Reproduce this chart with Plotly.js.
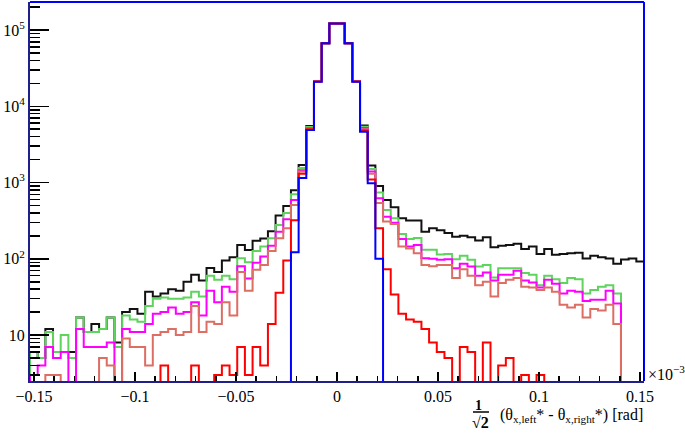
<!DOCTYPE html>
<html>
<head>
<meta charset="utf-8">
<script src="https://cdn.plot.ly/plotly-3.0.1.min.js"></script>
<style>
html,body{margin:0;padding:0;background:#fff;}
#chart text{font-family:"Liberation Serif","Times New Roman",serif !important;}
</style>
</head>
<body>
<div id="chart" style="width:685px;height:438px;"></div>
<script>
// Histogram binning (x in units of 10^-3 rad)
const xLow = -0.152;
const xHigh = 0.152;
const nBins = 80;

// Bin contents (0 = empty bin)
const blackCounts = [6,5,12,6,6,6,17,11,14,12, 17,8,20,22,19,37,32,35,40,38,
  50,62,52,76,67,95,105,152,130,172, 185,230,370,493,790,1700,5500,21500,67000,122000,
  122000,67000,21500,5600,1670,900,590,474,340,317, 317,227,251,237,218,195,200,192,174,192,
  142,148,152,157,134,145,116,134,113,116, 118,120,101,110,105,101,86,98,101,92];
const greenCounts = [6,5,11,6,10,5,17,11,11,12, 17,7,18,16,15,24,30,31,30,30,
  31,37,32,60,53,60,54,102,90,127, 145,186,278,400,700,1550,5350,21400,67000,122000,
  122000,67000,21400,5400,1500,738,438,340,212,182, 188,131,131,114,116,99,110,97,79,83,
  57,75,75,75,65,62,45,60,54,48, 56,54,35,39,43,45,35,0,0,0];
const magentaCounts = [3,4,7,5,6,0,12,7,7,7, 8,0,12,11,11,14,19,20,23,19,
  20,27,18,38,27,43,37,80,55,89, 107,148,227,330,590,1450,5200,21300,67000,122000,
  122000,67000,21300,5200,1400,622,357,298,182,145, 152,102,100,97,99,75,86,79,60,66,
  52,62,62,70,52,49,42,53,47,35, 38,37,28,29,29,38,26,0,0,0];
const salmonCounts = [0,0,3,3,0,0,0,0,0,5, 4,0,9,7,7,4,10,11,12,10,
  11,24,11,15,14,27,18,67,38,72, 83,127,186,251,508,1400,5100,21200,67000,122000,
  122000,67000,21200,5000,1300,540,308,287,145,137, 118,83,80,83,83,56,73,60,45,50,
  32,48,53,56,43,42,39,42,37,25, 23,25,17,22,21,25,14,0,0,0];
const redCounts = [0,0,0,0,0,0,0,0,0,0, 0,0,0,0,0,0,0,4,0,0,
  0,4,0,0,3,4,3,7,3,7, 4,14,36,95,320,1300,5000,21100,67000,122000,
  122000,67000,21100,4800,1100,251,73,34,19,16, 15,12,8,6,5,0,7,6,0,8,
  0,4,5,0,3,0,3,0,0,0, 0,0,0,0,0,0,0,0,0,0];
const blueCounts = [0,0,0,0,0,0,0,0,0,0, 0,0,0,0,0,0,0,0,0,0,
  0,0,0,0,0,0,0,0,0,0, 0,0,0,0,122,1150,4900,21000,67000,122000,
  122000,67000,21000,4650,980,100,0,0,0,0, 0,0,0,0,0,0,0,0,0,0,
  0,0,0,0,0,0,0,0,0,0, 0,0,0,0,0,0,0,0,0,0];

const yTickVals = [10, 100, 1000, 10000, 100000];
const yTickText = ['10', '10<sup>2</sup>', '10<sup>3</sup>', '10<sup>4</sup>', '10<sup>5</sup>'];

const FLOOR = 0.5; // below visible range: empty bins drop to the frame bottom
const binWidth = (xHigh - xLow) / nBins;
const yLogRange = [0.398, 5.367];

// minor log ticks at 2..9 x 10^k
const yMinorVals = [];
for (let k = 0; k <= 5; k++) for (let m = 2; m <= 9; m++) yMinorVals.push(m * Math.pow(10, k));

function stepTrace(counts, color) {
  const x = [xLow], y = [FLOOR];
  for (let i = 0; i < nBins; i++) {
    x.push(xLow + i * binWidth);
    y.push(counts[i] > 0 ? counts[i] : FLOOR);
  }
  x.push(xHigh); y.push(FLOOR);
  return {type: 'scatter', mode: 'lines', x: x, y: y, hoverinfo: 'skip',
    line: {shape: 'hv', color: color, width: 2}, showlegend: false};
}

const traces = [
  stepTrace(blackCounts, '#111111'),
  stepTrace(greenCounts, '#5ed35e'),
  stepTrace(magentaCounts, '#ff00ff'),
  stepTrace(salmonCounts, '#dc6e64'),
  stepTrace(redCounts, '#ff0000'),
  stepTrace(blueCounts, '#0000ff')
];

const serif = 'Liberation Serif';

const layout = {
  width: 685, height: 438,
  margin: {l: 30, r: 41, t: 2, b: 57},
  paper_bgcolor: '#ffffff', plot_bgcolor: '#ffffff',
  font: {family: serif, size: 16, color: '#000'},
  showlegend: false,
  xaxis: {
    range: [xLow, xHigh], tick0: 0, dtick: 0.05,
    ticks: 'inside', ticklen: 9, tickwidth: 1.5, tickcolor: '#000',
    showgrid: false, zeroline: false,
    showline: true, linecolor: '#1e1e8c', linewidth: 2,
    tickfont: {family: serif, size: 16, color: '#000'},
    minor: {tick0: 0, dtick: 0.01, ticks: 'inside', ticklen: 5, tickwidth: 1.5, tickcolor: '#000', showgrid: false}
  },
  yaxis: {
    type: 'log', range: yLogRange,
    tickmode: 'array', tickvals: yTickVals, ticktext: yTickText,
    ticks: 'inside', ticklen: 19, tickwidth: 1.5, tickcolor: '#000',
    showgrid: false, zeroline: false,
    showline: true, linecolor: '#1e1e8c', linewidth: 2,
    tickfont: {family: serif, size: 16, color: '#000'},
    minor: {tickmode: 'array', tickvals: yMinorVals, ticks: 'inside', ticklen: 10, tickwidth: 1.5, tickcolor: '#000', showgrid: false}
  },
  shapes: [
    {type: 'line', xref: 'paper', yref: 'paper', x0: 0, x1: 1, y0: 1, y1: 1, layer: 'below', line: {color: '#0000ff', width: 2}},
    {type: 'line', xref: 'paper', yref: 'paper', x0: 1, x1: 1, y0: 0, y1: 1, layer: 'below', line: {color: '#0000ff', width: 2}},
    {type: 'line', xref: 'paper', yref: 'paper', x0: 0.7215, x1: 0.7476, y0: -0.0818, y1: -0.0818, line: {color: '#000', width: 1.5}}
  ],
  annotations: [
    {xref: 'paper', yref: 'paper', x: 1.003, y: 0.02, xanchor: 'left', yanchor: 'middle', showarrow: false,
     text: '×10<sup>−3</sup>', font: {family: serif, size: 16, color: '#000'}},
    {xref: 'paper', yref: 'paper', x: 1.0016, y: -0.0923, xanchor: 'right', yanchor: 'middle', showarrow: false,
     text: '(θ<sub>x,left</sub>* - θ<sub>x,right</sub>*) [rad]', font: {family: serif, size: 16, color: '#000'}},
    {xref: 'paper', yref: 'paper', x: 0.7305, y: -0.064, xanchor: 'center', yanchor: 'middle', showarrow: false,
     text: '<b>1</b>', font: {family: serif, size: 14, color: '#000'}},
    {xref: 'paper', yref: 'paper', x: 0.7345, y: -0.1082, xanchor: 'center', yanchor: 'middle', showarrow: false,
     text: '<b>√2</b>', font: {family: serif, size: 16, color: '#000'}}
  ]
};

Plotly.newPlot('chart', traces, layout, {staticPlot: true, displayModeBar: false});
</script>
</body>
</html>
